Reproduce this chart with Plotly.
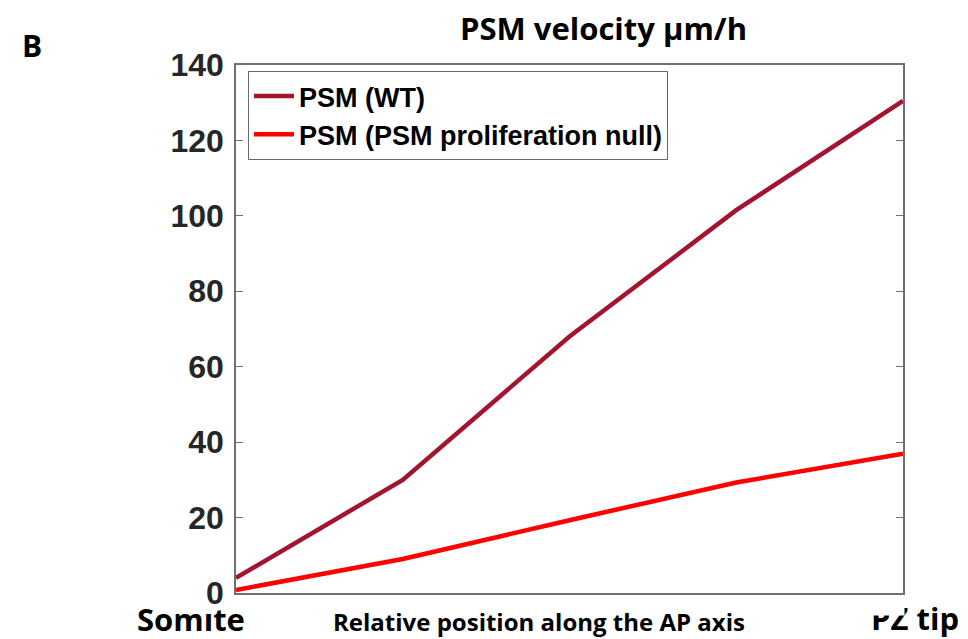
import plotly.graph_objects as go

# Relative AP positions (0 = somite end, 1 = PZ tip) and PSM velocities (µm/h)
positions = [0.0, 0.25, 0.5, 0.75, 1.0]
velocity_wt = [4.0, 30.0, 68.0, 101.5, 130.5]
velocity_null = [0.8, 9.0, 19.3, 29.3, 36.9]

series_names = ["PSM (WT)", "PSM (PSM proliferation null)"]
series_colors = ["#A2142F", "#FF0000"]
y_ticks = [0, 20, 40, 60, 80, 100, 120, 140]

W, H = 968, 639


def px(x):
    return x / W


def py(y):
    return 1 - y / H


fig = go.Figure()
for name, vals, col in zip(series_names, [velocity_wt, velocity_null], series_colors):
    fig.add_trace(go.Scatter(x=positions, y=vals, mode="lines", name=name,
                             line=dict(color=col, width=4.5)))

axis_grey = "#707070"
fig.update_layout(
    width=W, height=H,
    margin=dict(l=0, r=0, t=0, b=0, pad=0, autoexpand=False),
    paper_bgcolor="white", plot_bgcolor="white",
    showlegend=True,
    legend=dict(x=px(248), y=py(71), xanchor="left", yanchor="top",
                bgcolor="white", bordercolor="#6a6a6a", borderwidth=1,
                font=dict(family="Liberation Sans", size=27, color="#000000", weight="bold"),
                itemwidth=40, tracegroupgap=0),
    xaxis=dict(domain=[px(236), px(903)], range=[0, 1], showgrid=False, zeroline=False,
               showline=True, linecolor=axis_grey, linewidth=1.5, mirror=True,
               ticks="", showticklabels=False, automargin=False),
    yaxis=dict(domain=[py(593), py(65)], range=[0, 140], showgrid=False, zeroline=False,
               showline=True, linecolor=axis_grey, linewidth=1.5, mirror="ticks",
               ticks="inside", ticklen=7, tickcolor=axis_grey, tickwidth=1.2,
               tickvals=y_ticks, ticklabelstandoff=4, automargin=False,
               tickfont=dict(family="Liberation Sans", size=32, color="#262626", weight="bold")),
)

label_font = dict(family="Open Sans", color="#000000", weight="bold")
texts = [
    ("PSM velocity µm/h", 603, 28, 31),
    ("B", 32, 45, 30),
    ("Somite", 191, 619, 31),
    ("Relative position along the AP axis", 539, 621, 24),
    ("PZ tip", 915, 618, 31),
]
for txt, x, y, s in texts:
    fig.add_annotation(text=txt, x=px(x), y=py(y), xref="paper", yref="paper",
                       xanchor="center", yanchor="middle", showarrow=False,
                       font=dict(size=s, **label_font))

# white masks over the tops of the lower labels
for x0, y0, w, h in [(200, 605, 13, 7), (864, 596, 39, 18)]:
    fig.add_annotation(text=" ", x=px(x0), y=py(y0), xref="paper", yref="paper",
                       xanchor="left", yanchor="top", showarrow=False,
                       width=w, height=h, bgcolor="white", borderpad=0,
                       font=dict(size=4))

fig.write_html("out.html")
